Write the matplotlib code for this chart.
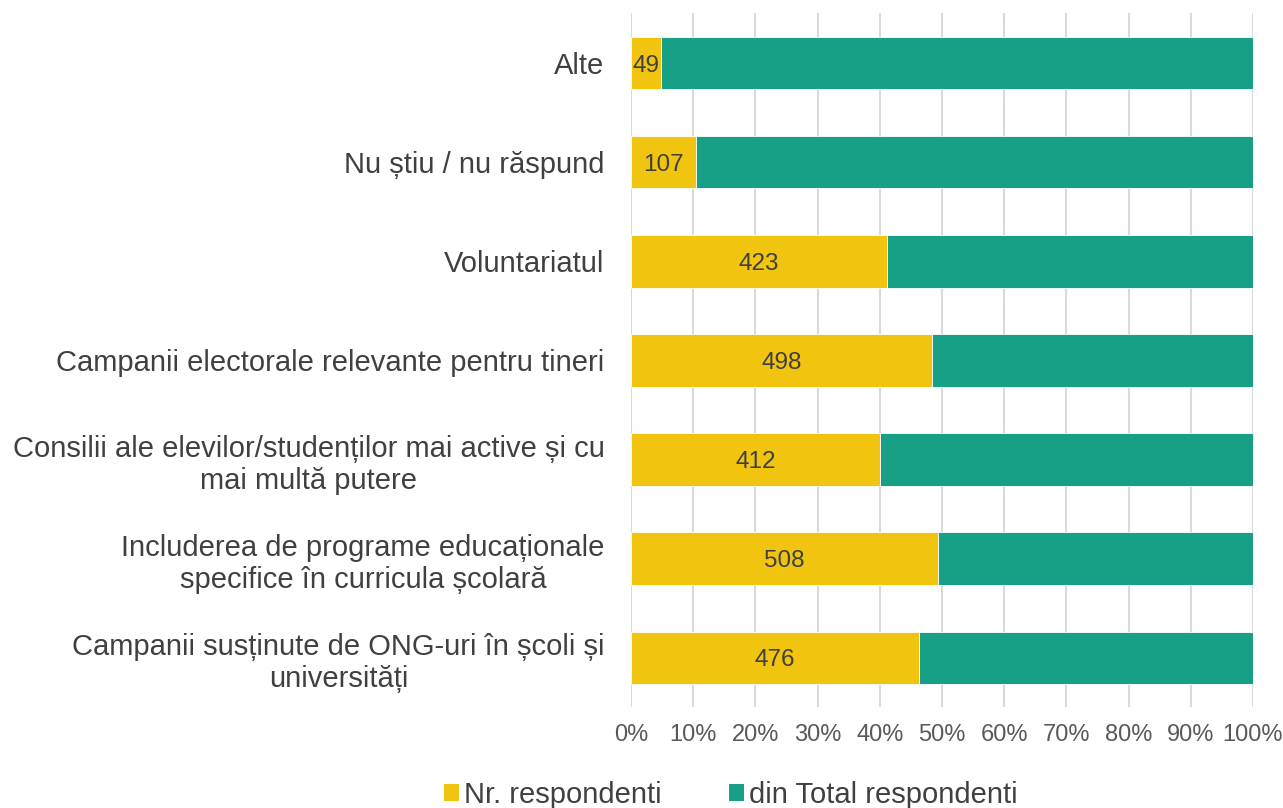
import matplotlib.pyplot as plt
from matplotlib.ticker import PercentFormatter
from matplotlib.patches import Patch

plt.rcParams['font.family'] = ['Liberation Sans', 'DejaVu Sans']

categories = [
    "Alte",
    "Nu știu / nu răspund",
    "Voluntariatul",
    "Campanii electorale relevante pentru tineri",
    "Consilii ale elevilor/studenților mai active și cu\nmai multă putere",
    "Includerea de programe educaționale\nspecifice în curricula școlară",
    "Campanii susținute de ONG-uri în școli și\nuniversități",
]
nr_respondenti = [49, 107, 423, 498, 412, 508, 476]
din_total = [980, 922, 606, 531, 617, 521, 553]
x_ticks = [0, 10, 20, 30, 40, 50, 60, 70, 80, 90, 100]

yellow = "#F1C40F"
green = "#17A086"

fig = plt.figure(figsize=(12.83, 8.08), dpi=100)
ax = fig.add_axes([0.4918, 0.1244, 0.9766 - 0.4918, 0.9833 - 0.1244])

totals = [a + b for a, b in zip(nr_respondenti, din_total)]
share_nr = [100 * a / t for a, t in zip(nr_respondenti, totals)]
share_rest = [100 * b / t for b, t in zip(din_total, totals)]

y = list(range(len(categories)))
h = 0.53
bars1 = ax.barh(y, share_nr, height=h, color=yellow, edgecolor="white", linewidth=0.6, zorder=3)
ax.barh(y, share_rest, left=share_nr, height=h, color=green, edgecolor="white", linewidth=0.6, zorder=3)

for rect, val in zip(bars1, nr_respondenti):
    cx = rect.get_x() + rect.get_width() / 2
    cy = rect.get_y() + rect.get_height() / 2
    ax.text(cx, cy, str(val), ha="center", va="center_baseline", fontsize=17.5,
            color="#404040", zorder=4)

ax.set_xlim(0, 100)
ax.set_ylim(len(categories) - 0.5, -0.5)
ax.set_xticks(x_ticks)
ax.xaxis.set_major_formatter(PercentFormatter(decimals=0))
ax.set_yticks(y)
ax.set_yticklabels(categories, multialignment="center", linespacing=1.2)
ax.tick_params(axis="y", length=0, pad=19, labelsize=21, labelcolor="#404040")
ax.tick_params(axis="x", length=0, pad=12, labelsize=17, labelcolor="#595959")
ax.grid(axis="x", color="#D9D9D9", linewidth=1.5, zorder=0)
for s in ax.spines.values():
    s.set_visible(False)

handles = [Patch(facecolor=yellow, label="Nr. respondenti"),
           Patch(facecolor=green, label="din Total respondenti")]
fig.legend(handles=handles, loc="center", bbox_to_anchor=(731 / 1283, 1 - 795 / 808),
           ncol=2, frameon=False, fontsize=21, handlelength=0.52, handleheight=0.52,
           handletextpad=0.17, columnspacing=2.3, labelcolor="#404040")

fig.savefig("out.png", dpi=100)
